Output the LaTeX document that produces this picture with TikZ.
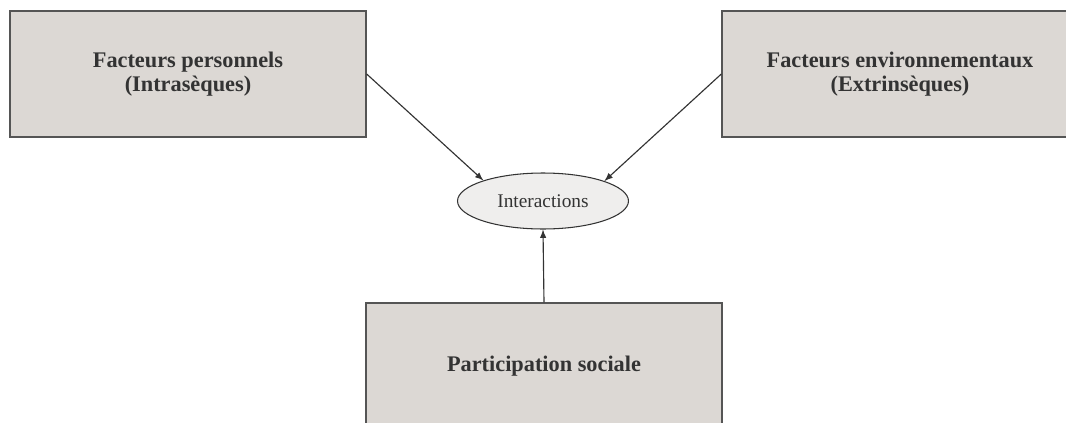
\documentclass[tikz,border=0pt]{standalone}
\usepackage{fontspec}
\setmainfont{Liberation Serif}
\usetikzlibrary{shapes.geometric, arrows, positioning}
\definecolor{boxfill}{HTML}{DCD8D4}
\definecolor{boxline}{HTML}{555555}
\definecolor{ovalfill}{HTML}{EFEEED}
\definecolor{inktext}{HTML}{333333}

\begin{document}
\begin{tikzpicture}[x=0.02cm, y=-0.02cm]
		\tikzstyle{Box} = [rectangle, minimum width=7.12cm, minimum height=2.52cm, text centered, align=center, draw=boxline, line width=0.8pt, fill=boxfill, text=inktext, font=\fontsize{12.7}{14}\selectfont\bfseries]
		\tikzstyle{Oval} = [ellipse, minimum width=3.42cm, minimum height=1.12cm, draw=inktext, line width=0.6pt, fill=ovalfill, text=inktext, font=\fontsize{11}{13}\selectfont]
		\tikzstyle{arrow} = [->, >=latex, draw=inktext, line width=0.65pt]
		
		\useasboundingbox (0, 0) rectangle (1066, 423);
		\clip (0, 0) rectangle (1066, 423);
		
		\node (perso) [Box] at (188, 74) {Facteurs personnels\\(Intrasèques)};
		\node (envir) [Box] at (900, 74) {Facteurs environnementaux\\(Extrinsèques)};
		\node (inter) [Oval] at (543, 201) {Interactions};
		\node (parti) [Box] at (544, 366) {Participation sociale};
		
		\draw [arrow] (perso.east) -- (inter.161);
		\draw [arrow] (envir.west) -- (inter.18);
		\draw [arrow] (parti.north) -- (inter.south);
\end{tikzpicture}
\end{document}
